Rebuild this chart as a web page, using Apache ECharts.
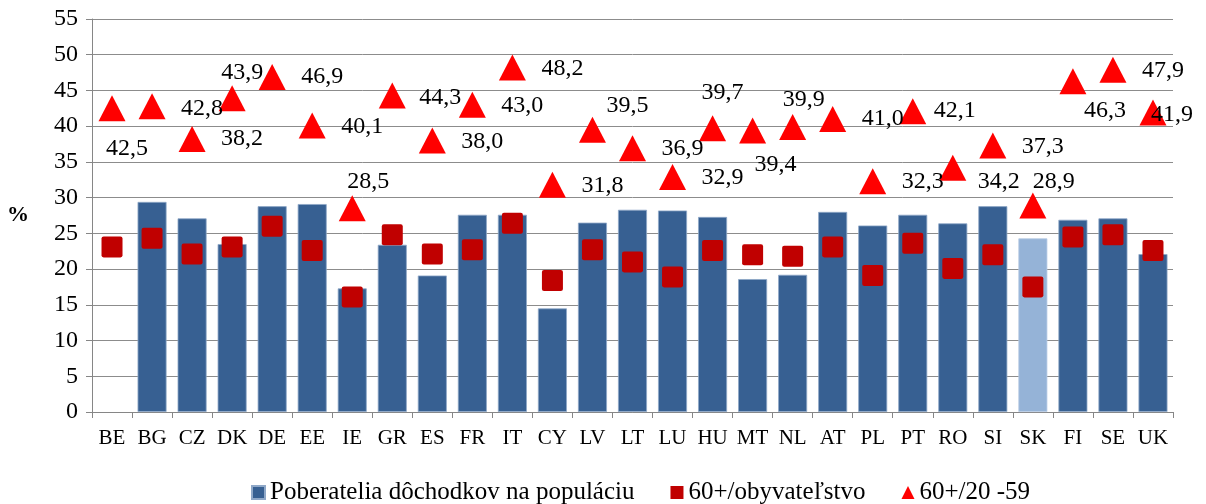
<!DOCTYPE html>
<html>
<head>
<meta charset="utf-8">
<script src="https://cdn.jsdelivr.net/npm/echarts@6/dist/echarts.min.js"></script>
<style>
  html, body { margin: 0; padding: 0; background: #fff; }
  #chart { width: 1206px; height: 504px; }
</style>
</head>
<body>
<div id="chart"></div>
<script>
// krajiny EU
const countries = ["BE", "BG", "CZ", "DK", "DE", "EE", "IE", "GR", "ES", "FR", "IT", "CY", "LV", "LT",
  "LU", "HU", "MT", "NL", "AT", "PL", "PT", "RO", "SI", "SK", "FI", "SE", "UK"];

// Poberatelia dôchodkov na populáciu (BE bez údaja)
const pensioners = [null, 29.4, 27.1, 23.5, 28.8, 29.1, 17.3, 23.4, 19.1, 27.6, 27.6, 14.5, 26.5, 28.3,
  28.2, 27.3, 18.6, 19.2, 28.0, 26.1, 27.6, 26.4, 28.8, 24.3, 26.9, 27.1, 22.1];

// 60+/obyvateľstvo
const over60Pop = [23.1, 24.3, 22.1, 23.1, 26.0, 22.6, 16.1, 24.8, 22.1, 22.7, 26.4, 18.4, 22.7, 21.0,
  18.9, 22.6, 22.0, 21.8, 23.1, 19.1, 23.6, 20.1, 22.0, 17.5, 24.5, 24.8, 22.6];

// 60+/20 -59
const over60Work = [42.5, 42.8, 38.2, 43.9, 46.9, 40.1, 28.5, 44.3, 38.0, 43.0, 48.2, 31.8, 39.5, 36.9,
  32.9, 39.7, 39.4, 39.9, 41.0, 32.3, 42.1, 34.2, 37.3, 28.9, 46.3, 47.9, 41.9];

const yTicks = { min: 0, max: 55, step: 5 };

// umiestnenie popiskov trojuholníkov (posun od stredu značky, px)
const labelOffsets = [[15, 40], [50, 3], [50, 0], [10, -26], [50, 0], [50, 1], [16, -27], [48, 2],
  [50, 1], [50, 1], [50, 1], [50, 1], [35, -24], [50, 0], [50, 1], [10, -36], [23, 34], [11, -27],
  [50, 0], [50, 1], [42, 0], [46, 14], [50, 1], [21, -24], [32, 30], [50, 1], [19, 2]];

const fmt = (v) => v.toFixed(1).replace(".", ",");
const font = "'Liberation Serif', 'Times New Roman', serif";
const squareMark = "path://M2,0 H18 Q20,0 20,2 V18 Q20,20 18,20 H2 Q0,20 0,18 V2 Q0,0 2,0 Z";

const chart = echarts.init(document.getElementById("chart"));
chart.setOption({
  animation: false,
  textStyle: { fontFamily: font, color: "#000" },
  grid: { left: 92, right: 33, top: 19, bottom: 92 },
  legend: {
    top: 475,
    left: 246,
    itemGap: 36,
    itemWidth: 13,
    itemHeight: 13,
    textStyle: { fontFamily: font, fontSize: 25, color: "#000" },
    data: [
      { name: "Poberatelia dôchodkov na populáciu", icon: "rect" },
      { name: "60+/obyvateľstvo", icon: "rect" },
      { name: "60+/20 -59", icon: "triangle" },
    ],
  },
  xAxis: {
    type: "category",
    data: countries,
    axisLine: { lineStyle: { color: "#868686" } },
    axisTick: { show: true, length: 6, lineStyle: { color: "#868686" } },
    axisLabel: { fontFamily: font, fontSize: 21, color: "#000", margin: 16, interval: 0 },
  },
  yAxis: {
    type: "value",
    min: yTicks.min,
    max: yTicks.max,
    interval: yTicks.step,
    name: "%",
    nameLocation: "middle",
    nameRotate: 0,
    nameGap: 63,
    nameTextStyle: { fontFamily: font, fontSize: 22, fontWeight: "bold", color: "#000" },
    axisLine: { show: true, lineStyle: { color: "#868686" } },
    axisTick: { show: true, length: 6, lineStyle: { color: "#868686" } },
    axisLabel: { fontFamily: font, fontSize: 24, color: "#000", margin: 14 },
    splitLine: { lineStyle: { color: "#8c8c8c", width: 1 } },
  },
  series: [
    {
      name: "Poberatelia dôchodkov na populáciu",
      type: "bar",
      barWidth: 29,
      itemStyle: { color: "#376092", borderColor: "#8fa8c8", borderWidth: 0.8 },
      data: pensioners.map((v, i) =>
        countries[i] === "SK"
          ? { value: v, itemStyle: { color: "#95B3D7", borderColor: "#b8cce4" } }
          : v
      ),
      z: 1,
    },
    {
      name: "60+/obyvateľstvo",
      type: "scatter",
      symbol: squareMark,
      symbolSize: 21,
      itemStyle: { color: "#C00000", opacity: 1 },
      data: over60Pop,
      z: 3,
    },
    {
      name: "60+/20 -59",
      type: "scatter",
      symbol: "triangle",
      symbolSize: [27, 26],
      itemStyle: { color: "#FF0000", opacity: 1 },
      data: over60Work.map((v, i) => ({
        value: v,
        label: { offset: labelOffsets[i] },
      })),
      label: {
        show: true,
        position: "inside",
        fontFamily: font,
        fontSize: 24,
        color: "#000",
        formatter: (p) => fmt(p.value),
      },
      z: 4,
    },
  ],
});
</script>
</body>
</html>
